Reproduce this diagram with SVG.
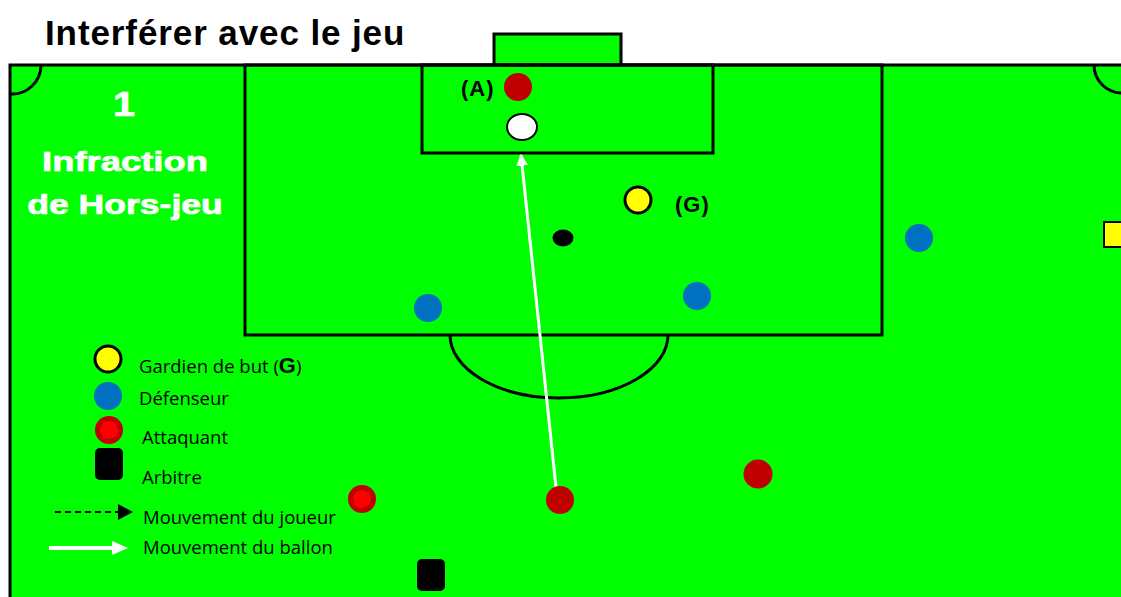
<svg xmlns="http://www.w3.org/2000/svg" width="1121" height="597" viewBox="0 0 1121 597">
  <defs>
    <style>
      .line { fill: none; stroke: #000; stroke-width: 3; }
      .def { fill: #0070C0; }
      .att { fill: #C00000; }
      .lbl { font-family: "Open Sans", "Liberation Sans", sans-serif; font-size: 18.5px; fill: #000; }
      .bold { font-family: "Liberation Sans", Arial, sans-serif; font-weight: bold; }
      .head { fill: #fff; stroke: #fff; stroke-width: 0.7; }
    </style>
    <marker id="whiteHead" viewBox="0 0 10 10" refX="9" refY="5" markerWidth="4" markerHeight="4" orient="auto" markerUnits="strokeWidth">
      <path d="M0,0 L10,5 L0,10 z" fill="#fff"/>
    </marker>
  </defs>
  <rect width="1121" height="597" fill="#fff"/>

  <g id="field">
    <rect x="494" y="34" width="127" height="31" fill="#00FF00" stroke="#000" stroke-width="3"/>
    <rect x="10" y="65" width="1130" height="545" fill="#00FF00" stroke="#000" stroke-width="3"/>
    <rect x="245" y="65" width="637" height="270" class="line"/>
    <rect x="422" y="65" width="291" height="88" class="line"/>
    <path d="M450,335 A109,63 0 0 0 668,335" class="line"/>
    <path d="M10,94 A29,29 0 0 0 41,65" class="line"/>
    <path d="M1094,65 A28,28 0 0 0 1122,93" class="line"/>
    <rect x="1104" y="222" width="30" height="25" fill="#FFFF00" stroke="#000" stroke-width="2"/>
  </g>

  <g id="title">
    <text x="45" y="45" class="bold" font-size="35" letter-spacing="0.9" fill="#000">Interférer avec le jeu</text>
  </g>

  <g id="heading">
    <text transform="translate(124,116) scale(1.1,1)" class="bold head" font-size="36" text-anchor="middle">1</text>
    <text transform="translate(125,171) scale(1.3,1)" class="bold head" font-size="28" text-anchor="middle">Infraction</text>
    <text transform="translate(125,214) scale(1.27,1)" class="bold head" font-size="28" text-anchor="middle">de Hors-jeu</text>
  </g>

  <g id="connectors">
    <line x1="556" y1="487" x2="521" y2="155" stroke="#fff" stroke-width="3" marker-end="url(#whiteHead)"/>
  </g>

  <g id="attacker-A">
    <circle cx="518" cy="87" r="14" class="att"/>
    <text x="461" y="96" class="bold" font-size="22" letter-spacing="1" fill="#000">(A)</text>
  </g>
  <g id="ball">
    <ellipse cx="522" cy="127" rx="15" ry="13" fill="#fff" stroke="#000" stroke-width="2"/>
  </g>
  <g id="goalkeeper">
    <circle cx="638" cy="200" r="13" fill="#FFFF00" stroke="#000" stroke-width="3"/>
    <text x="675" y="212" class="bold" font-size="22" letter-spacing="1" fill="#000">(G)</text>
  </g>
  <g id="small-dot">
    <ellipse cx="563" cy="238" rx="10.5" ry="8.5" fill="#000"/>
  </g>
  <g id="defender-1"><circle cx="428" cy="308" r="14" class="def"/></g>
  <g id="defender-2"><circle cx="697" cy="296" r="14" class="def"/></g>
  <g id="defender-3"><circle cx="919" cy="238" r="14" class="def"/></g>
  <g id="attacker-1">
    <circle cx="362" cy="499" r="14" class="att"/>
    <circle cx="362" cy="499" r="9" fill="#FF0000"/>
  </g>
  <g id="attacker-2"><circle cx="560" cy="500" r="14" class="att"/></g>
  <g id="attacker-3"><circle cx="758" cy="474" r="14.5" class="att"/></g>
  <g id="referee"><rect x="417" y="559" width="28" height="32" rx="5" fill="#000"/></g>

  <g id="legend">
    <circle cx="108" cy="359" r="13" fill="#FFFF00" stroke="#000" stroke-width="3"/>
    <text x="139" y="373" class="lbl">Gardien de but (<tspan class="bold" font-size="22">G</tspan>)</text>
    <circle cx="108" cy="396" r="14" class="def"/>
    <text x="139" y="405" class="lbl">Défenseur</text>
    <circle cx="109" cy="430" r="14" class="att"/>
    <circle cx="109" cy="430" r="9" fill="#FF0000"/>
    <text x="142" y="444" class="lbl">Attaquant</text>
    <rect x="95" y="448" width="28" height="32" rx="5" fill="#000"/>
    <text x="142" y="484" class="lbl">Arbitre</text>
    <line x1="55" y1="512" x2="122" y2="512" stroke="#000" stroke-width="2" stroke-dasharray="6,4"/>
    <path d="M118,504 L133,512 L118,520 z" fill="#000"/>
    <text x="143" y="524" class="lbl">Mouvement du joueur</text>
    <line x1="49" y1="548" x2="112" y2="548" stroke="#fff" stroke-width="4"/>
    <path d="M112,541 L128,548 L112,555 z" fill="#fff"/>
    <text x="143" y="554" class="lbl">Mouvement du ballon</text>
  </g>
</svg>
